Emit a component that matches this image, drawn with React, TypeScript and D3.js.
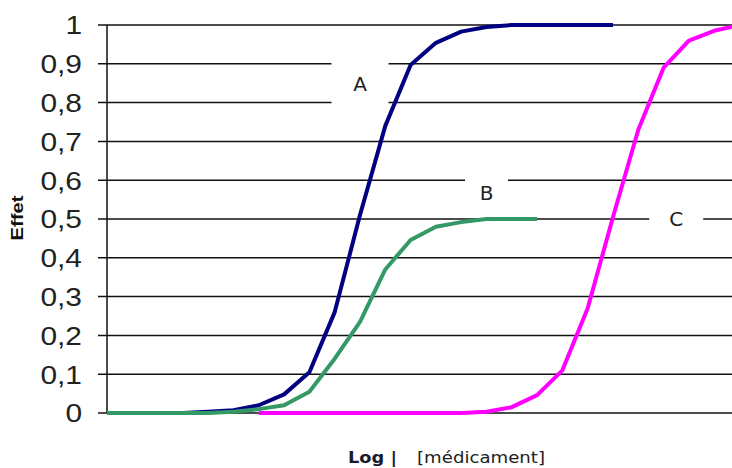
import React, { useEffect, useRef } from 'react'
import * as d3 from 'd3'

// log-dose categories (index along the x axis)
const categories = [0, 1, 2, 3, 4, 5, 6, 7, 8, 9, 10, 11, 12, 13, 14, 15, 16, 17, 18, 19, 20, 21, 22, 23, 24, 25]

const seriesA = [null, null, null, 0, 0.003, 0.007, 0.02, 0.048, 0.105, 0.26, 0.51, 0.74, 0.897, 0.954, 0.983, 0.995, 1, 1, 1, 1, 1, null, null, null, null, null]
const seriesB = [0, 0, 0, 0, 0, 0.003, 0.01, 0.02, 0.055, 0.14, 0.235, 0.37, 0.446, 0.48, 0.492, 0.5, 0.5, 0.5, null, null, null, null, null, null, null, null]
const seriesC = [null, null, null, null, null, null, 0, 0, 0, 0, 0, 0, 0, 0, 0, 0.003, 0.015, 0.046, 0.11, 0.27, 0.505, 0.73, 0.89, 0.96, 0.985, 1]

const yTicks = [0, 0.1, 0.2, 0.3, 0.4, 0.5, 0.6, 0.7, 0.8, 0.9, 1]

const seriesNames = ['A', 'B', 'C']
const seriesColors = ['#000080', '#339966', '#ff00ff']
// where each series name sits: [category, value]
const labelAt = [[10, 0.848], [15, 0.567], [22.5, 0.5]]
const labelBox = [[57, 46], [43, 44], [54, 40]]

const W = 732
const H = 468

export default function App() {
  const ref = useRef<SVGSVGElement>(null)

  useEffect(() => {
    const svg = d3.select(ref.current)
    svg.selectAll('*').remove()

    const x = d3.scaleLinear().domain([0, 25]).range([107, 739.5])
    const y = d3.scaleLinear().domain([0, 1]).range([413, 25])

    // gridlines (they also act as tick marks left of the axis)
    svg.append('g')
      .selectAll('line')
      .data(yTicks)
      .enter()
      .append('line')
      .attr('x1', 98)
      .attr('x2', W)
      .attr('y1', d => y(d))
      .attr('y2', d => y(d))
      .attr('stroke', '#111')
      .attr('stroke-width', 1.5)

    // vertical axis
    svg.append('line')
      .attr('x1', x(0)).attr('x2', x(0))
      .attr('y1', y(1)).attr('y2', y(0))
      .attr('stroke', '#111')
      .attr('stroke-width', 1.5)

    // tick labels
    const fmt = (d: number) => (d === 0 || d === 1 ? String(d) : d3.format('.1f')(d).replace('.', ','))
    const tl = svg.append('g').attr('transform', 'translate(82,0) scale(1.15,1)')
    tl.selectAll('text')
      .data(yTicks)
      .enter()
      .append('text')
      .attr('x', 0)
      .attr('y', d => y(d))
      .attr('dy', '0.36em')
      .attr('text-anchor', 'end')
      .attr('font-family', 'Liberation Sans, Arial, sans-serif')
      .attr('font-size', 26)
      .attr('fill', '#222')
      .text(fmt)

    // white boxes behind the series names
    const labels = seriesNames.map((n, i) => ({ name: n, cx: x(labelAt[i][0]), cy: y(labelAt[i][1]), w: labelBox[i][0], h: labelBox[i][1] }))
    svg.append('g')
      .selectAll('rect')
      .data(labels)
      .enter()
      .append('rect')
      .attr('x', d => d.cx - d.w / 2)
      .attr('y', d => d.cy - d.h / 2)
      .attr('width', d => d.w)
      .attr('height', d => d.h)
      .attr('fill', '#fff')

    // curves
    const all = [seriesA, seriesB, seriesC]
    const line = d3.line<number | null>()
      .defined(d => d != null)
      .x((d, i) => x(categories[i]))
      .y(d => y(d as number))
    svg.append('g')
      .selectAll('path')
      .data(all)
      .enter()
      .append('path')
      .attr('d', d => line(d))
      .attr('fill', 'none')
      .attr('stroke', (d, i) => seriesColors[i])
      .attr('stroke-width', 4)
      .attr('stroke-linejoin', 'round')

    svg.append('g')
      .selectAll('text')
      .data(labels)
      .enter()
      .append('text')
      .attr('x', d => d.cx)
      .attr('y', d => d.cy)
      .attr('dy', '0.36em')
      .attr('text-anchor', 'middle')
      .attr('font-family', 'DejaVu Sans, Verdana, sans-serif')
      .attr('font-size', 20)
      .attr('fill', '#222')
      .text(d => d.name)

    // axis titles
    svg.append('text')
      .attr('transform', 'translate(23,218) rotate(-90)')
      .attr('text-anchor', 'middle')
      .attr('font-family', 'Liberation Sans, Arial, sans-serif')
      .attr('font-weight', 'bold')
      .attr('font-size', 17)
      .attr('textLength', 45)
      .attr('lengthAdjust', 'spacingAndGlyphs')
      .attr('fill', '#111')
      .text('Effet')

    svg.append('text')
      .attr('x', 348)
      .attr('y', 463)
      .attr('font-family', 'DejaVu Sans, Tahoma, sans-serif')
      .attr('font-weight', 'bold')
      .attr('font-size', 15)
      .attr('textLength', 49)
      .attr('lengthAdjust', 'spacingAndGlyphs')
      .attr('fill', '#1a1a2e')
      .text('Log |')

    svg.append('text')
      .attr('x', 417)
      .attr('y', 463)
      .attr('font-family', 'DejaVu Sans, Tahoma, sans-serif')
      .attr('font-size', 15)
      .attr('textLength', 128)
      .attr('lengthAdjust', 'spacingAndGlyphs')
      .attr('fill', '#222')
      .text('[médicament]')
  }, [])

  return (
    <svg ref={ref} width={W} height={H}
      style={{ position: 'absolute', left: 0, top: 0, background: '#fff' }} />
  )
}
